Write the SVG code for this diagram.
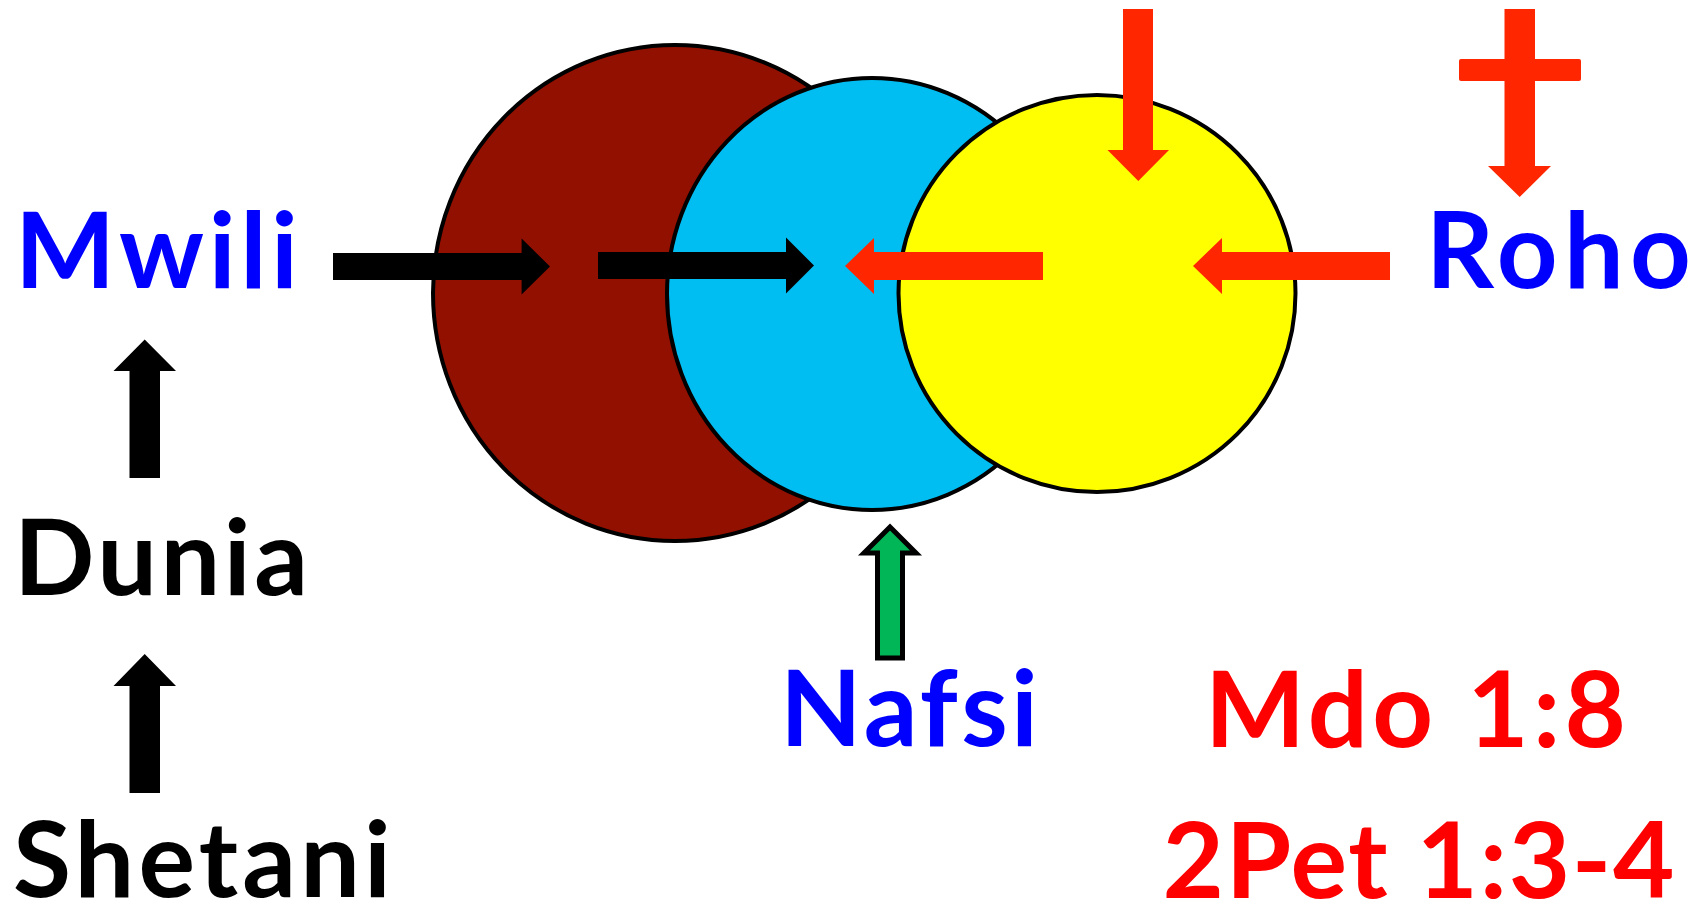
<svg xmlns="http://www.w3.org/2000/svg" width="1701" height="904" viewBox="0 0 1701 904">
<style>
.lbl{font-family:Lato,"Liberation Sans",sans-serif;font-weight:bold;font-size:106px}
.blue{fill:#0000FF}
.red{fill:#FF0000}
.blk{fill:#000000}
.circ{stroke:#000;stroke-width:4}
.ar{fill:#FF2600}
.ab{fill:#000}
</style>
<rect width="1701" height="904" fill="#fff"/>
<g id="body"><ellipse class="circ" cx="675" cy="293" rx="242" ry="248" fill="#921000"/></g>
<g id="soul"><ellipse class="circ" cx="872" cy="294" rx="205" ry="216" fill="#00BEF2"/></g>
<g id="spirit"><circle class="circ" cx="1097" cy="293.5" r="198.5" fill="#FFFF00"/></g>
<g id="connectors">
<polygon class="ab" points="333,253 521.6,253 521.6,238.5 550,266.5 521.6,294.5 521.6,280 333,280"/>
<polygon class="ab" points="598,252 786,252 786,237.5 814,265.5 786,293.5 786,279 598,279"/>
<polygon class="ar" points="1043,252 874,252 874,238 845,266 874,294 874,280 1043,280"/>
<polygon class="ar" points="1390,252 1222,252 1222,238 1193,266 1222,294 1222,280 1390,280"/>
<polygon class="ar" points="1123,9 1153,9 1153,150 1169,150 1138.3,181 1107.5,150 1123,150"/>
<polygon class="ar" points="1504.5,9 1535,9 1535,166 1551,166 1519.7,197 1488,166 1504.5,166"/>
<rect class="ar" x="1459" y="59" width="122" height="22" rx="2"/>
<polygon class="ab" points="129.5,478 129.5,371 113.5,371 144.7,339.5 176,371 160,371 160,478"/>
<polygon class="ab" points="129.5,793 129.5,686 113.5,686 144.7,654 176,686 160,686 160,793"/>
<polygon points="890,527 916,553 902.5,553 902.5,658 877.5,658 877.5,553 864,553" fill="#00B656" stroke="#000" stroke-width="5"/>
</g>
<g id="label-mwili"><text class="lbl blue" x="15" y="288" textLength="283">Mwili</text></g>
<g id="label-roho"><text class="lbl blue" x="1426" y="288" textLength="265">Roho</text></g>
<g id="label-dunia"><text class="lbl blk" x="14" y="595" textLength="294">Dunia</text></g>
<g id="label-shetani"><text class="lbl blk" x="13" y="897" textLength="378">Shetani</text></g>
<g id="label-nafsi"><text class="lbl blue" x="780" y="746" textLength="258">Nafsi</text></g>
<g id="label-mdo"><text class="lbl red" x="1205" y="747" textLength="421">Mdo 1:8</text></g>
<g id="label-2pet"><text class="lbl red" x="1162.5" y="898" textLength="512">2Pet 1:3-4</text></g>
</svg>
